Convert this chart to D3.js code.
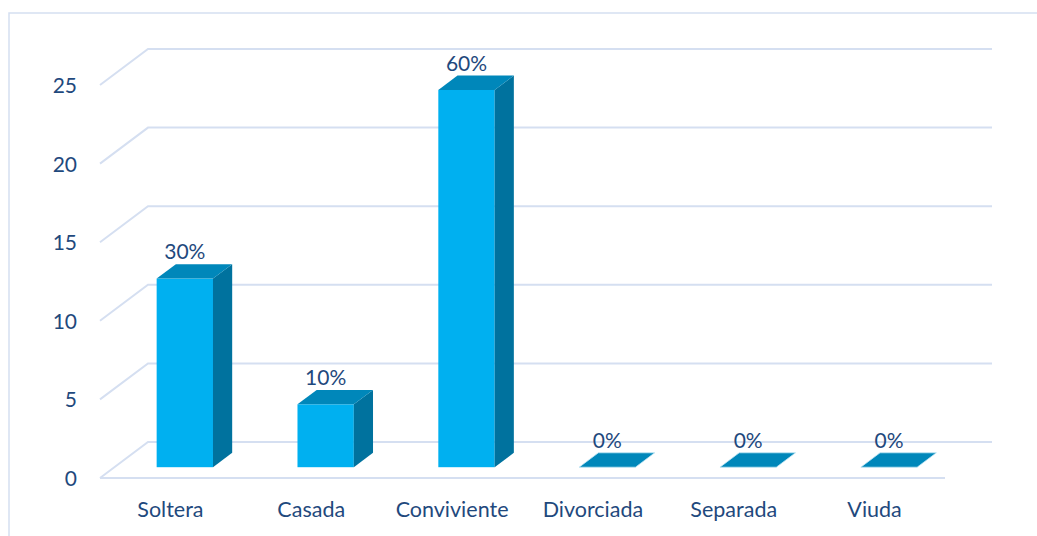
<!DOCTYPE html>
<html>
<meta charset="utf-8">
<title>Estado civil</title>
<style>
  body { margin: 0; background: #fff; }
  text { font-family: Lato, "Open Sans", sans-serif; fill: #1F497D; }
</style>
<script src="https://d3js.org/d3.v7.min.js"></script>
<body>
<script>
  // data
  var categories = ['Soltera', 'Casada', 'Conviviente', 'Divorciada', 'Separada', 'Viuda'];
  var counts = [12, 4, 24, 0, 0, 0];
  var percents = ['30%', '10%', '60%', '0%', '0%', '0%'];
  var yTicks = [0, 5, 10, 15, 20, 25];

  var W = 1037, H = 536;
  var depthX = 48, depthY = -36;   // front plane -> back wall
  var grid = '#D5DFF1';

  var svg = d3.select('body').append('svg')
      .attr('width', W).attr('height', H);

  // chart area border
  svg.append('path')
      .attr('d', 'M9,' + H + 'V13H' + W)
      .attr('fill', 'none').attr('stroke', grid).attr('stroke-width', 1.5);

  var x = d3.scaleBand().domain(categories).range([100, 945])
      .paddingInner(0.6).paddingOuter(0.3);
  // y on the back wall
  var y = d3.scaleLinear().domain([0, 25]).range([442, 49]);

  // back wall gridlines and left side diagonals
  yTicks.forEach(function(t) {
    svg.append('path')
        .attr('d', 'M100,' + (y(t) - depthY) + 'L148,' + y(t) + 'H992')
        .attr('fill', 'none').attr('stroke', grid).attr('stroke-width', 2);
    svg.append('text')
        .attr('x', 77).attr('y', y(t) - depthY).attr('dy', '0.38em')
        .attr('text-anchor', 'end').style('font-size', '21px')
        .text(t);
  });
  // floor front edge
  svg.append('line')
      .attr('x1', 100).attr('x2', 945)
      .attr('y1', y(0) - depthY).attr('y2', y(0) - depthY)
      .attr('stroke', grid).attr('stroke-width', 2);

  // category labels
  svg.selectAll('.cat').data(categories).enter().append('text')
      .attr('class', 'cat')
      .attr('x', function(d) { return x(d) + x.bandwidth() / 2; })
      .attr('y', 517).attr('text-anchor', 'middle')
      .style('font-size', '21.5px')
      .text(function(d) { return d; });

  // bars sit between 30% and 70% of the depth
  var d0 = 0.3, d1 = 0.7;
  var bw = x.bandwidth();
  var ddx = depthX * (d1 - d0), ddy = depthY * (d1 - d0);

  var bars = svg.selectAll('.bar').data(categories).enter().append('g')
      .attr('class', 'bar');

  bars.each(function(c, i) {
    var g = d3.select(this);
    var fx = x(c) + depthX * d0;                 // front face left
    var base = y(0) - depthY * (1 - d0);         // front face bottom
    var h = y(0) - y(counts[i]);
    var top = base - h;

    if (h > 0) {
      g.append('rect')
          .attr('x', fx).attr('y', top).attr('width', bw).attr('height', h)
          .attr('fill', '#00B0F0');
      g.append('path')
          .attr('d', 'M' + (fx + bw) + ',' + top + 'l' + ddx + ',' + ddy +
                'v' + h + 'l' + (-ddx) + ',' + (-ddy) + 'Z')
          .attr('fill', '#00729E');
    }
    g.append('path')
        .attr('d', 'M' + fx + ',' + top + 'h' + bw + 'l' + ddx + ',' + ddy +
              'h' + (-bw) + 'Z')
        .attr('fill', '#0087BA')
        .attr('stroke', '#bfe6f5').attr('stroke-width', h > 0 ? 0 : 0.8);

    g.append('text')
        .attr('x', fx + bw / 2)
        .attr('y', top + ddy - 5)
        .attr('text-anchor', 'middle').style('font-size', '21px')
        .text(percents[i]);
  });
</script>
</body>
</html>
